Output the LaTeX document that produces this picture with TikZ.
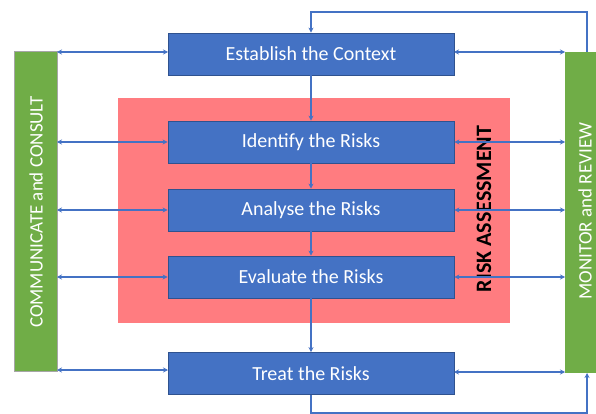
\documentclass[tikz,border=0pt]{standalone}
\usepackage{fontspec}
\setmainfont{Carlito}
\usetikzlibrary{arrows.meta}
\definecolor{boxblue}{HTML}{4472C4}
\definecolor{boxedge}{HTML}{2F528F}
\definecolor{riskred}{HTML}{FF7C80}
\definecolor{barGreen}{HTML}{70AD47}
\definecolor{lineblue}{HTML}{4472C4}
\begin{document}
\begin{tikzpicture}[x=1pt,y=-1pt,
  stepbox/.style={draw=boxedge,line width=0.8pt,fill=boxblue,text=white,minimum width=286pt,minimum height=42pt,inner sep=0pt,font=\fontsize{20}{22}\selectfont},
  conn/.style={draw=lineblue,line width=1.8pt,-{Stealth[length=5pt,width=5pt]}},
  dconn/.style={draw=lineblue,line width=1.8pt,{Stealth[length=5pt,width=5pt]}-{Stealth[length=5pt,width=5pt]}},
  vtext/.style={text=white,font=\fontsize{19}{21}\selectfont,rotate=90,inner sep=0pt}]
\useasboundingbox (0,0) rectangle (596,414);
\fill[white] (0,0) rectangle (596,414);
% risk assessment area
\node[fill=riskred,minimum width=392pt,minimum height=225pt,inner sep=0pt] (ra) at (314,210.5) {};
\node[rotate=90,font=\fontsize{22}{24}\selectfont\bfseries,text=black,inner sep=0pt] (ratext) at (484,209) {RISK ASSESSMENT};
% side bars
\node[draw=gray!70,line width=0.5pt,fill=barGreen,minimum width=43pt,minimum height=320pt,inner sep=0pt] (cc) at (35.5,211) {};
\node[vtext] (cctext) at (36,212) {COMMUNICATE and CONSULT};
\node[fill=barGreen,minimum width=31pt,minimum height=321pt,inner sep=0pt,anchor=west] (mr) at (565,212.5) {};
\node[vtext] (mrtext) at (585,211) {MONITOR and REVIEW};
% steps
\node[stepbox] (est) at (311,54) {Establish the Context};
\node[stepbox] (ide) at (311,142) {Identify the Risks};
\node[stepbox] (ana) at (311,210) {Analyse the Risks};
\node[stepbox] (eva) at (311,277) {Evaluate the Risks};
\node[stepbox] (tre) at (311,373.5) {Treat the Risks};
% vertical flow
\draw[conn] (est.south) -- (ide.north);
\draw[conn] (ide.south) -- (ana.north);
\draw[conn] (ana.south) -- (eva.north);
\draw[conn] (eva.south) -- (tre.north);
% loops
\coordinate (tl) at (587,12);
\coordinate (tr) at (311,12);
\draw[conn] (587,52) -- (tl) -- (tr) -- (est.north);
\coordinate (bl) at (311,413);
\coordinate (br) at (587,413);
\draw[conn] (tre.south) -- (bl) -- (br) -- (587,373);
% horizontal arrows left
\draw[dconn] (57,52) -- (168,52);
\draw[dconn] (57,142) -- (ide.west);
\draw[dconn] (57,210) -- (ana.west);
\draw[dconn] (57,277) -- (eva.west);
\draw[dconn] (57,370) -- (168,370);
% horizontal arrows right
\draw[dconn] (454,52) -- (565,52);
\draw[dconn] (ide.east) -- (565,142);
\draw[dconn] (ana.east) -- (565,210);
\draw[dconn] (eva.east) -- (565,277);
\draw[dconn] (454,372) -- (565,372);
\end{tikzpicture}
\end{document}
